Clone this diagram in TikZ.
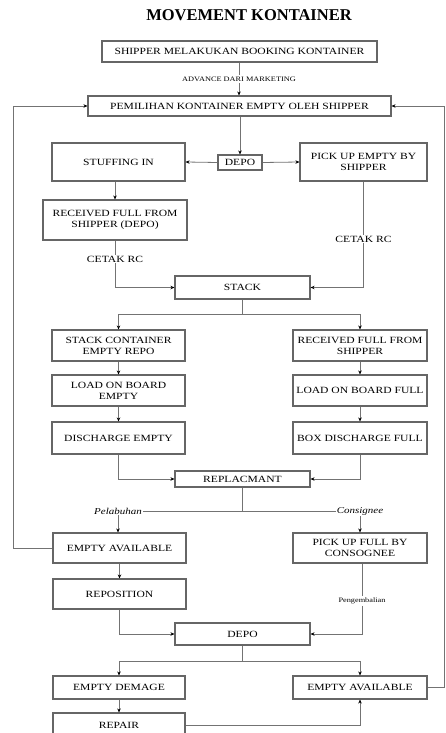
\documentclass[tikz,border=0pt]{standalone}
\usepackage{fontspec}
\setmainfont{Liberation Serif}
\newfontfamily\boxfont[FakeStretch=1.22]{Liberation Serif}
\usetikzlibrary{arrows.meta}
\begin{document}
\begin{tikzpicture}[x=1pt,y=-1pt,
  box/.style={draw=black!60, line width=1.1pt, fill=white, inner sep=1pt,
    align=center, font=\boxfont\fontsize{9.5}{11}\selectfont},
  conn/.style={draw=black!55, line width=0.8pt},
  arr/.style={conn, -{Stealth[length=4pt,width=3.5pt,black]}},
  lbl/.style={inner sep=1pt, font=\boxfont\fontsize{9.5}{11}\selectfont},
  ilbl/.style={inner sep=1pt, font=\boxfont\itshape\fontsize{9}{10}\selectfont},
  slbl/.style={inner sep=1.5pt, font=\boxfont\fontsize{6.8}{8}\selectfont}]
\useasboundingbox (0,0) rectangle (445,733);
\node[font=\bfseries\fontsize{16.5}{18}\selectfont] (title) at (249,15) {MOVEMENT KONTAINER};

\node[box, minimum width=275, minimum height=21] (book) at (239.5,51.5) {SHIPPER MELAKUKAN BOOKING KONTAINER};
\node[box, minimum width=303, minimum height=20] (pemil) at (239.5,106) {PEMILIHAN KONTAINER EMPTY OLEH SHIPPER};
\node[box, minimum width=44, minimum height=15] (depoA) at (240,162.5) {DEPO};
\node[box, minimum width=133, minimum height=38] (stuff) at (118.5,162) {STUFFING IN};
\node[box, minimum width=127, minimum height=38] (pickE) at (363.5,162) {PICK UP EMPTY BY\\SHIPPER};
\node[box, minimum width=144, minimum height=40] (recvA) at (115,220) {RECEIVED FULL FROM\\SHIPPER (DEPO)};
\node[box, minimum width=135, minimum height=23] (stack) at (242.5,287.5) {STACK};

\node[box, minimum width=133, minimum height=31] (scer) at (118.5,345.5) {STACK CONTAINER\\EMPTY REPO};
\node[box, minimum width=133, minimum height=31] (lobe) at (118.5,390.5) {LOAD ON BOARD\\EMPTY};
\node[box, minimum width=133, minimum height=32] (dise) at (118.5,438) {DISCHARGE EMPTY};
\node[box, minimum width=134, minimum height=31] (rfs) at (360,345.5) {RECEIVED FULL FROM\\SHIPPER};
\node[box, minimum width=134, minimum height=31] (lobf) at (360,390.5) {LOAD ON BOARD FULL};
\node[box, minimum width=134, minimum height=32] (bdf) at (360,438) {BOX DISCHARGE FULL};

\node[box, minimum width=135, minimum height=16] (repl) at (242.5,479) {REPLACMANT};
\node[box, minimum width=133, minimum height=30] (eaA) at (119.5,548) {EMPTY AVAILABLE};
\node[box, minimum width=133, minimum height=30] (repo) at (119.5,594) {REPOSITION};
\node[box, minimum width=134, minimum height=30] (pufc) at (360,548) {PICK UP FULL BY\\CONSOGNEE};
\node[box, minimum width=135, minimum height=22] (depoB) at (242.5,634) {DEPO};
\node[box, minimum width=132, minimum height=23] (edem) at (119,687.5) {EMPTY DEMAGE};
\node[box, minimum width=134, minimum height=23] (eaB) at (360,687.5) {EMPTY AVAILABLE};
\node[box, minimum width=132, minimum height=25] (repair) at (119,725.5) {REPAIR};

% labels
\node[slbl] (adv) at (239,79) {ADVANCE DARI MARKETING};
\node[lbl] (cetL) at (115,259) {CETAK RC};
\node[lbl] (cetR) at (363.5,239) {CETAK RC};
\node[ilbl] (pel) at (118,511) {Pelabuhan};
\node[ilbl] (con) at (360,511) {Consignee};
\node[slbl] (peng) at (362,601) {Pengembalian};

\coordinate (splitA) at (242.5,314);
\coordinate (splitB) at (242.5,511);
\coordinate (splitC) at (242.5,661);
\coordinate (loopL) at (13,548);
\coordinate (loopR) at (444,687.5);

% connectors
\draw[conn] (book.south -| adv) -- (adv);
\draw[arr] (adv) -- (adv |- pemil.north);
\draw[arr] (pemil.south -| depoA) -- (depoA.north);
\draw[arr] (depoA.west) -- (stuff.east);
\draw[arr] (depoA.east) -- (pickE.west);
\draw[arr] (recvA.north |- stuff.south) -- (recvA.north);
\draw[conn] (recvA.south) -- (cetL);
\draw[arr] (cetL) |- (stack.west);
\draw[conn] (pickE.south) -- (cetR);
\draw[arr] (cetR) |- (stack.east);

\draw[conn] (stack.south) -- (splitA);
\draw[arr] (splitA) -| (scer.north);
\draw[arr] (splitA) -| (rfs.north);
\draw[arr] (scer) -- (lobe);
\draw[arr] (lobe) -- (dise);
\draw[arr] (rfs) -- (lobf);
\draw[arr] (lobf) -- (bdf);
\draw[arr] (dise.south) |- (repl.west);
\draw[arr] (bdf.south) |- (repl.east);

\draw[conn] (repl.south) -- (splitB);
\draw[conn] (pel.east) -- (con.west);
\draw[arr] (pel.south) -- (pel.south |- eaA.north);
\draw[arr] (con.south) -- (con.south |- pufc.north);
\draw[arr] (eaA.south -| repo) -- (repo.north);
\draw[arr] (eaA.west) -- (loopL) |- (pemil.west);

\draw[arr] (repo.south) |- (depoB.west);
\draw[conn] (pufc.south -| peng) -- (peng);
\draw[arr] (peng) |- (depoB.east);

\draw[conn] (depoB.south) -- (splitC);
\draw[arr] (splitC) -| (edem.north);
\draw[arr] (splitC) -| (eaB.north);
\draw[arr] (edem) -- (repair);
\draw[arr] (repair.east) -| (eaB.south);
\draw[arr] (eaB.east) -- (loopR) |- (pemil.east);
\end{tikzpicture}
\end{document}
